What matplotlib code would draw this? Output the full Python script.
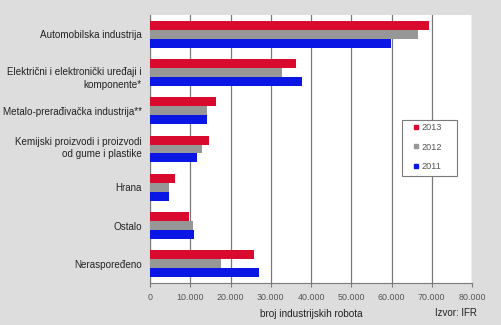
import matplotlib.pyplot as plt
import matplotlib.transforms as mtrans
import numpy as np
from matplotlib.lines import Line2D
from matplotlib.patches import Rectangle

# Data
categories = ["Automobilska industrija",
              "Električni i elektronički uređaji i\nkomponente*",
              "Metalo-prerađivačka industrija**",
              "Kemijski proizvodi i proizvodi\nod gume i plastike",
              "Hrana",
              "Ostalo",
              "Neraspoređeno"]
years = ["2013", "2012", "2011"]
values_2013 = [69400, 36200, 16500, 14600, 6300, 9600, 25800]
values_2012 = [66700, 32700, 14100, 12800, 4800, 10700, 17600]
values_2011 = [59800, 37800, 14200, 11800, 4600, 10900, 27000]
tick_values = [0, 10000, 20000, 30000, 40000, 50000, 60000, 70000, 80000]
tick_labels = ["0", "10.000", "20.000", "30.000", "40.000", "50.000", "60.000", "70.000", "80.000"]

colors = ["#d80a2e", "#979797", "#0a16e4"]
bg = "#dddddd"
line_col = "#7a7a7a"
plt.rcParams['font.family'] = ["Liberation Sans", "DejaVu Sans"]

fig = plt.figure(figsize=(5.02, 3.25), dpi=100, facecolor=bg)
# plot area in pixels: x 150..472, y 15..283
ax = fig.add_axes([150 / 502, 42 / 325, 322 / 502, 268 / 325])
ax.set_facecolor("white")

y = np.arange(len(categories))
h = 0.235
for i, vals in enumerate([values_2013, values_2012, values_2011]):
    ax.barh(y + (i - 1) * h, vals, height=h, color=colors[i], zorder=3)

ax.set_ylim(len(categories) - 0.5, -0.5)
ax.set_xlim(0, 80000)
ax.set_xticks(tick_values)
ax.set_xticklabels(tick_labels, fontsize=6.4, color="#555555")
ax.set_yticks(y)
ax.set_yticklabels(categories, fontsize=7.1, color="#222222", linespacing=1.3)
ax.tick_params(axis="y", length=0, pad=6)
ax.tick_params(axis="x", length=3, color=line_col, pad=4)
ax.grid(axis="x", color=line_col, linewidth=0.9, zorder=0)

# the two-line labels sit a little off the group centre in the original
shifts = {1: -4, 3: 3}
for i, lab in enumerate(ax.get_yticklabels()):
    if i in shifts:
        lab.set_transform(lab.get_transform() + mtrans.ScaledTranslation(0, shifts[i] / 100, fig.dpi_scale_trans))

for s in ["top", "right"]:
    ax.spines[s].set_visible(False)
ax.spines["left"].set_color(line_col)
ax.spines["bottom"].set_color(line_col)

ax.set_xlabel("broj industrijskih robota", fontsize=7.2, color="#222222", labelpad=5)
fig.text(456 / 502, 12 / 325, "Izvor: IFR", fontsize=7, color="#222222", ha="center", va="center")

# legend box
ax.add_patch(Rectangle(((402 - 150) / 322, (283 - 176) / 268), 55 / 322, 56 / 268,
                       transform=ax.transAxes, facecolor="white", edgecolor=line_col,
                       linewidth=0.8, zorder=4))
handles = [Line2D([], [], marker="s", linestyle="none", markersize=3, color=c) for c in colors]
leg = ax.legend(handles, years, loc="upper left", bbox_to_anchor=((414 - 150) / 322, (283 - 123) / 268),
                frameon=False, fontsize=6.6, handletextpad=0.3, labelspacing=1.15,
                borderpad=0, handlelength=0.5, borderaxespad=0)
leg.set_zorder(5)
for t in leg.get_texts():
    t.set_color("#555555")

fig.savefig("out.png", dpi=100, facecolor=bg)
